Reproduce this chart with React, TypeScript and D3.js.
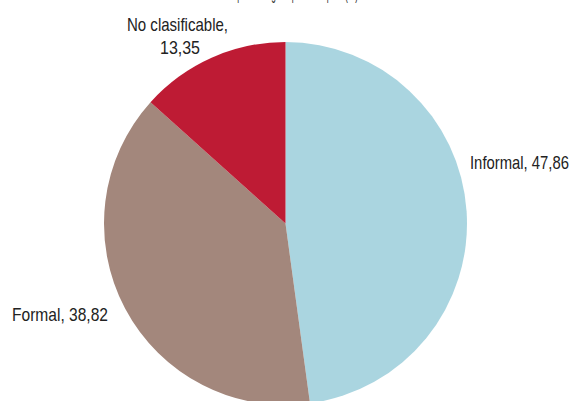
import React from "react";
import * as d3 from "d3";

const categories = ["Informal", "Formal", "No clasificable"];
const values = [47.86, 38.82, 13.35];
const valueLabels = ["47,86", "38,82", "13,35"];
const colors = ["#aad5e0", "#a3877c", "#be1b34"];
const title = "Ocupados según tipo de empleo (%)";

const W = 572;
const H = 401;
const cx = 285.5;
const cy = 223.5;
const R = 181.5;
const SX = 0.8;

function Label(props: { x: number; y: number; w: number; text: string; anchor?: string }) {
  const { x, y, w, text } = props;
  return (
    <text
      transform={`translate(${x},${y}) scale(${SX},1)`}
      textLength={w / SX}
      lengthAdjust="spacingAndGlyphs"
    >
      {text}
    </text>
  );
}

export default function App() {
  const pie = d3.pie<number>().sort(null).value((d) => d)(values);
  const arc = d3.arc<d3.PieArcDatum<number>>().innerRadius(0).outerRadius(R);
  const font = "'Liberation Sans', Arial, sans-serif";
  const fs = 18;
  return (
    <svg
      width={W}
      height={H}
      style={{ position: "absolute", left: 0, top: 0, background: "#fff" }}
    >
      <g fontFamily={font} fontSize={fs} fill="#333">
        <Label x={222} y={-1} w={136} text={title} />
      </g>
      <g transform={`translate(${cx},${cy})`}>
        {pie.map((p, i) => (
          <path key={i} d={arc(p) || ""} fill={colors[i]} />
        ))}
      </g>
      <g fontFamily={font} fontSize={fs} fill="#222">
        <Label x={470} y={169} w={99} text={`${categories[0]}, ${valueLabels[0]}`} />
        <Label x={12} y={321} w={96} text={`${categories[1]}, ${valueLabels[1]}`} />
        <Label x={127} y={31} w={101} text={`${categories[2]},`} />
        <Label x={160} y={54} w={40} text={valueLabels[2]} />
      </g>
    </svg>
  );
}
